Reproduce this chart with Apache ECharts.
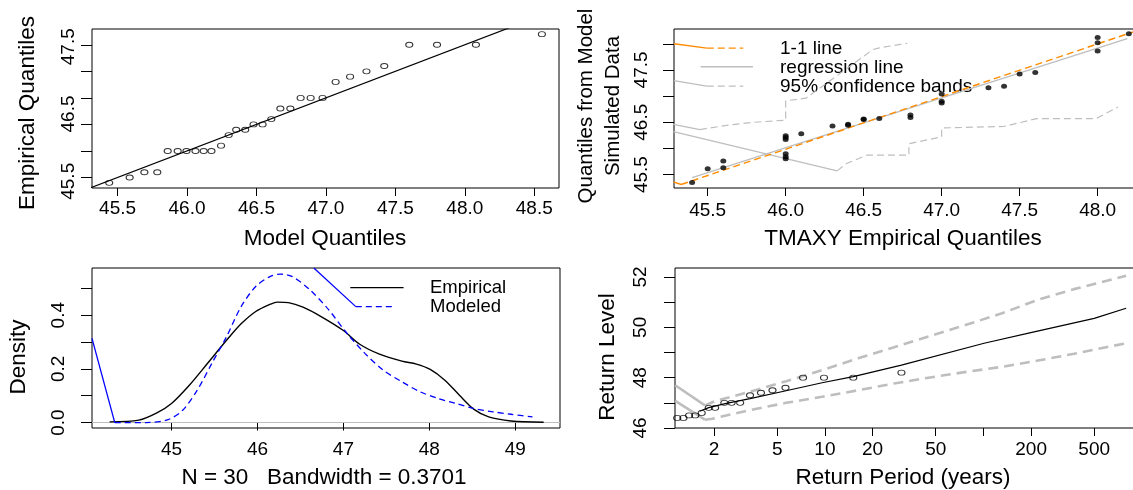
<!DOCTYPE html>
<html><head><meta charset="utf-8">
<script src="https://cdn.jsdelivr.net/npm/echarts@6/dist/echarts.min.js"></script>
<style>html,body{margin:0;padding:0;background:#fff}#c{width:1133px;height:490px}</style>
</head><body><div id="c"></div>
<script>
// ================= DATA =================
// sorted empirical annual maxima (TMAXY)
const tmaxy = [45.4,45.5,45.6,45.6,46.0,46.0,46.0,46.0,46.0,46.0,46.1,46.3,46.4,46.4,46.5,46.5,46.6,46.8,46.8,47.0,47.0,47.0,47.3,47.4,47.5,47.6,48.0,48.0,48.0,48.2];
// panel 1: model quantiles
const modelQuantiles = [45.44,45.587,45.693,45.786,45.861,45.933,45.996,46.061,46.12,46.176,46.245,46.30,46.354,46.419,46.479,46.544,46.607,46.672,46.744,46.818,46.89,46.976,47.07,47.174,47.292,47.42,47.60,47.80,48.08,48.555];
const oneToOne = [45.2, 48.8];
// panel 2: quantiles from model simulated data
const simulatedQuantiles = [45.35,45.61,45.63,45.76,45.80,45.84,45.90,46.17,46.21,46.24,46.28,46.43,46.44,46.46,46.55,46.56,46.57,46.59,46.64,46.87,46.90,47.04,47.16,47.19,47.42,47.45,47.86,48.02,48.12,48.19];
const p2OneX = [45.28,45.33,48.4], p2OneY = [45.36,45.31,48.4];
const regX = [45.40,48.19], regY = [45.44,48.10];
const upperBandX = [45.28,45.45,45.62,45.8,46.0,46.0,46.13,46.56,46.6,46.78];
const upperBandY = [46.46,46.36,46.44,46.50,46.54,46.91,46.96,47.89,47.92,48.01];
const lowerBandX = [45.28,46.33,46.39,46.52,46.79,46.79,47.0,47.0,47.4,47.61,47.99,48.13];
const lowerBandY = [46.32,45.57,45.71,45.87,45.87,46.09,46.22,46.39,46.42,46.57,46.57,46.79];
// panel 3: densities
const empDensX = [44.28,44.62,44.83,45.0,45.21,45.42,45.66,45.81,45.98,46.15,46.23,46.36,46.53,46.74,47.0,47.19,47.42,47.68,47.85,48.01,48.18,48.35,48.52,48.69,48.95,49.33];
const empDensY = [0.0025,0.009,0.036,0.071,0.14,0.221,0.314,0.368,0.414,0.441,0.449,0.447,0.43,0.395,0.343,0.292,0.255,0.229,0.218,0.198,0.158,0.102,0.049,0.021,0.006,0.001];
const modDensX = [44.075,44.34,44.70,44.96,45.13,45.30,45.47,45.64,45.81,45.98,46.15,46.27,46.40,46.61,46.83,47.04,47.25,47.46,47.68,47.89,48.10,48.31,48.52,48.74,48.95,49.2];
const modDensY = [0.314,0,0,0.011,0.046,0.121,0.221,0.32,0.432,0.507,0.545,0.553,0.545,0.495,0.42,0.333,0.258,0.196,0.152,0.115,0.09,0.071,0.052,0.04,0.031,0.021];
// panel 4: return levels
const rpPointsT = [1.17,1.28,1.39,1.52,1.67,1.85,2.03,2.32,2.58,2.92,3.37,3.95,4.67,5.64,7.28,9.87,15.1,30.4];
const rpPointsL = [46.4,46.4,46.5,46.5,46.6,46.8,46.8,47.0,47.0,47.0,47.3,47.4,47.5,47.6,48.0,48.0,48.0,48.2];
const rlT = [1.62,1.85,2.35,3.37,5.69,9.6,15.1,30.4,101,199,500,795];
const rlL = [46.665,46.81,46.97,47.17,47.48,47.80,48.04,48.50,49.37,49.79,50.36,50.76];
const ciUpT = [1.137,1.75,2.05,3.37,5.69,9.6,16.2,27.3,46.1,77.8,131,221,373,795];
const ciUpL = [47.70,46.90,47.08,47.44,47.86,48.30,48.77,49.21,49.66,50.10,50.56,51.10,51.52,52.05];
const ciLoT = [1.137,1.75,1.95,3.37,5.69,9.6,16.2,27.3,46.1,77.8,131,221,373,795];
const ciLoL = [47.08,46.33,46.37,46.71,47.0,47.24,47.50,47.77,48.01,48.23,48.43,48.68,48.95,49.37];
// tick values / labels
const p1XTicks = [45.5,46.0,46.5,47.0,47.5,48.0,48.5];
const p1YTicks = [45.5,46.0,46.5,47.0,47.5,48.0];
const p1YLabels = [45.5,46.5,47.5];
const p2XTicks = [45.5,46.0,46.5,47.0,47.5,48.0];
const p2YTicks = [45.5,46.0,46.5,47.0,47.5,48.0];
const p2YLabels = [45.5,46.5,47.5];
const p3XTicks = [45,46,47,48,49];
const p3YTicks = [0,0.1,0.2,0.3,0.4,0.5];
const p3YLabels = [0,0.2,0.4];
const p4XTicks = [2,5,10,20,50,100,200,500];
const p4XLabels = [2,5,10,20,50,200,500];
const p4YTicks = [46,47,48,49,50,51,52];
const p4YLabels = [46,48,50,52];
// legend keys (panel-local)
const p2LegOneX = [45.284,45.494,45.728], p2LegOneY = [48.0,47.917,47.917];
const p2LegRegX = [45.455,45.79], p2LegRegY = [47.56,47.56];
const p2LegCiX = [45.284,45.494,45.728], p2LegCiY = [47.297,47.189,47.189];
const p3LegEmpX = [47.08,47.70], p3LegEmpY = [0.503,0.503];
const p3LegModX = [46.656,47.144,47.57], p3LegModY = [0.576,0.432,0.432];

// ================= CHART =================
const FONT = 'Liberation Sans, Arial, sans-serif';
const pts = (xs, ys) => xs.map((x, i) => [x, ys[i]]);
const log = v => Math.log10(v);

function xAx(grid, min, max, ticks, labels, fmt, margin) {
  return { type:'value', gridIndex:grid, position:'bottom', min, max, axisLine:{show:false},
    splitLine:{show:false},
    axisTick:{show:true, length:8, customValues:ticks, lineStyle:{color:'#000', width:1}},
    axisLabel:{show:true, customValues:labels, formatter:fmt, color:'#000', fontSize:19, fontFamily:FONT, margin} };
}
function yAx(grid, min, max, ticks, labels, fmt, margin) {
  return { type:'value', gridIndex:grid, position:'left', offset:0, min, max, axisLine:{show:false},
    splitLine:{show:false},
    axisTick:{show: !!ticks, length:11, customValues:ticks || undefined, lineStyle:{color:'#000', width:1}},
    axisLabel:{show: !!labels, customValues:labels || undefined, formatter:fmt, rotate:90, color:'#000', fontSize:19, fontFamily:FONT, margin} };
}
const f1 = v => v.toFixed(1);
const f0 = v => String(Math.round(v));

function line(xi, yi, data, color, width, type, smooth) {
  return { type:'line', xAxisIndex:xi, yAxisIndex:yi, data, symbol:'none', silent:true, clip:true,
    smooth: smooth || false, lineStyle:{color, width, type: type || 'solid'}, z:3 };
}
// polyline whose first segment is drawn solid, rest dashed
function leadDashed(xi, yi, xs, ys, color, width, dash) {
  const d = pts(xs, ys);
  return [line(xi, yi, d.slice(0, 2), color, width, 'solid'), line(xi, yi, d.slice(1), color, width, dash)];
}

const grids = [
  {left:92, top:29, width:467, height:159},
  {left:674, top:29, width:472, height:159},
  {left:92, top:268, width:468, height:160},
  {left:675, top:268, width:472, height:160}
].map(g => Object.assign({show:true, borderColor:'#000', borderWidth:1, backgroundColor:'transparent',
  containLabel:false, outerBoundsMode:'none'}, g));

const GREY = '#bebebe';
const DASH = [7, 4];

const series = [
  // panel 1
  line(0, 0, pts(oneToOne, oneToOne), '#000', 1.2),
  { type:'scatter', xAxisIndex:0, yAxisIndex:0, data: pts(modelQuantiles, tmaxy), symbol:'circle', symbolSize:[7,5],
    itemStyle:{color:'rgba(0,0,0,0)', borderColor:'#000', borderWidth:1}, z:4 },
  // panel 2
  ...leadDashed(1, 2, upperBandX, upperBandY, GREY, 1.2, DASH),
  ...leadDashed(1, 2, lowerBandX, lowerBandY, GREY, 1.2, DASH),
  line(1, 2, pts(regX, regY), GREY, 1.3),
  ...leadDashed(1, 2, p2OneX, p2OneY, '#ff8c00', 1.4, DASH),
  { type:'scatter', xAxisIndex:1, yAxisIndex:2, data: pts(tmaxy, simulatedQuantiles), symbol:'circle', symbolSize:[6,5],
    itemStyle:{color:'#000'}, z:4 },
  ...leadDashed(1, 2, p2LegOneX, p2LegOneY, '#ff8c00', 1.4, DASH),
  line(1, 2, pts(p2LegRegX, p2LegRegY), GREY, 1.3),
  ...leadDashed(1, 2, p2LegCiX, p2LegCiY, GREY, 1.2, DASH),
  // panel 3
  Object.assign(line(2, 3, pts(empDensX, empDensY), '#000', 1.4, 'solid', 0.3), {
    markLine:{silent:true, symbol:'none', label:{show:false}, lineStyle:{color:GREY, type:'solid', width:1}, data:[{yAxis:0}], z:2} }),
  line(2, 3, pts(modDensX, modDensY).slice(0, 2), '#0000ff', 1.3),
  line(2, 3, pts(modDensX, modDensY).slice(1), '#0000ff', 1.3, [6,4], 0.3),
  line(2, 3, pts(p3LegEmpX, p3LegEmpY), '#000', 1.4),
  ...leadDashed(2, 3, p3LegModX, p3LegModY, '#0000ff', 1.3, [6,4]),
  // panel 4
  ...leadDashed(3, 4, ciUpT.map(log), ciUpL, GREY, 2.6, [10,6]),
  ...leadDashed(3, 4, ciLoT.map(log), ciLoL, GREY, 2.6, [10,6]),
  line(3, 4, pts(rlT.map(log), rlL), '#000', 1.2),
  { type:'scatter', xAxisIndex:3, yAxisIndex:4, data: pts(rpPointsT.map(log), rpPointsL), symbol:'circle', symbolSize:[7,5],
    itemStyle:{color:'rgba(0,0,0,0)', borderColor:'#000', borderWidth:1}, z:4 }
];

function txt(text, x, y, size, rot, align) {
  return { type:'text', x, y, rotation: rot ? Math.PI/2 : 0, silent:true,
    style:{ text, fill:'#000', fontSize:size, fontFamily:FONT,
      align: align || 'center', verticalAlign:'middle', textAlign: align || 'center', textVerticalAlign:'middle' } };
}

const option = {
  animation:false,
  backgroundColor:'#fff',
  grid: grids,
  xAxis: [
    xAx(0, 45.316, 48.678, p1XTicks, p1XTicks, f1, 11),
    xAx(1, 45.284, 48.31, p2XTicks, p2XTicks, f1, 13),
    xAx(2, 44.075, 49.52, p3XTicks, p3XTicks, f0, 12),
    xAx(3, 0.0543, 3.032, p4XTicks.map(log), p4XLabels.map(log), v => String(Math.round(Math.pow(10, v))), 12)
  ],
  yAxis: [
    yAx(0, 45.303, 48.297, p1YTicks, null, f1, 14),
    yAx(0, 45.4, 47.764, null, p1YLabels, f1, 14),
    yAx(1, 45.243, 48.282, p2YTicks, p2YLabels, f1, 23),
    yAx(2, -0.0202, 0.576, p3YTicks, p3YLabels, f1, 24),
    yAx(3, 46, 52.36, p4YTicks, p4YLabels, f0, 25)
  ],
  series,
  graphic: [
    txt('Empirical Quantiles', 28, 113, 22.5, true),
    txt('Model Quantiles', 325, 239, 22.5),
    txt('Quantiles from Model', 586, 106, 20.5, true),
    txt('Simulated Data', 613, 106, 20.5, true),
    txt('TMAXY Empirical Quantiles', 903, 239, 22.5),
    txt('1-1 line', 780, 48.3, 19, false, 'left'),
    txt('regression line', 780, 67.3, 19, false, 'left'),
    txt('95% confidence bands', 780, 86.3, 19, false, 'left'),
    txt('Density', 19, 357, 22.5, true),
    txt('N = 30   Bandwidth = 0.3701', 324, 478, 22.5),
    txt('Empirical', 430, 287.7, 18.5, false, 'left'),
    txt('Modeled', 430, 306.7, 18.5, false, 'left'),
    txt('Return Level', 608, 357, 22.5, true),
    txt('Return Period (years)', 903, 478, 22.5)
  ]
};
const chart = echarts.init(document.getElementById('c'), null, {renderer:'canvas'});
chart.setOption(option);
</script></body></html>
